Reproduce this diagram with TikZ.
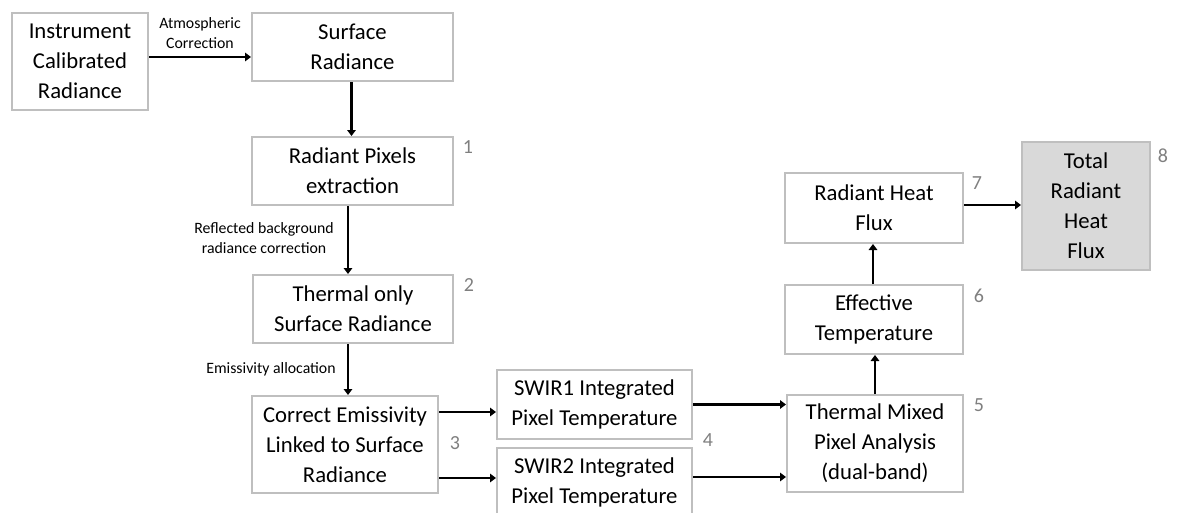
\documentclass[tikz,border=0pt]{standalone}
\usepackage{fontspec}
\setmainfont{Carlito}
\usetikzlibrary{arrows.meta,calc}
\definecolor{boxgray}{HTML}{BFBFBF}
\definecolor{numgray}{HTML}{7F7F7F}
\definecolor{fillgray}{HTML}{D9D9D9}
\tikzset{
  box/.style={draw=boxgray, line width=2pt, fill=white, align=center, inner sep=0pt,
    font=\fontsize{22.7}{30}\selectfont, text=black},
  arr/.style={line width=2.5pt, -{Triangle[length=6pt,width=8.5pt]}},
  lab/.style={font=\fontsize{15.8}{20}\selectfont, align=center, inner sep=0pt},
  num/.style={font=\fontsize{20}{24}\selectfont, text=numgray, inner sep=0pt},
}
\begin{document}
\begin{tikzpicture}[x=1pt,y=-1pt]
\useasboundingbox (0,0) rectangle (1181,512);
\node[box, minimum width=136, minimum height=97] (A) at (80,61.5) {Instrument\\Calibrated\\Radiance};
\node[box, minimum width=201, minimum height=68] (B) at (352.5,47) {Surface\\Radiance};
\node[box, minimum width=201, minimum height=68] (C) at (352.5,171) {Radiant Pixels\\extraction};
\node[box, minimum width=200, minimum height=68] (D) at (353,309) {Thermal only\\Surface Radiance};
\node[box, minimum width=186, minimum height=97] (E) at (345,444.5) {Correct Emissivity\\Linked to Surface\\Radiance};
\node[box, minimum width=195, minimum height=69] (F) at (594.5,404.5) {SWIR1 Integrated\\Pixel Temperature};
\node[box, minimum width=195, minimum height=69] (G) at (594.5,482.5) {SWIR2 Integrated\\Pixel Temperature};
\node[box, minimum width=176, minimum height=97] (H) at (875,443.5) {Thermal Mixed\\Pixel Analysis\\(dual-band)};
\node[box, minimum width=178, minimum height=69] (I) at (874,319.5) {Effective\\Temperature};
\node[box, minimum width=178, minimum height=70] (J) at (874,208) {Radiant Heat\\Flux};
\node[box, fill=fillgray, minimum width=128, minimum height=128] (K) at (1086,206) {Total\\Radiant\\Heat\\Flux};

\node[num] (n1) at (468,147) {1};
\node[num] (n2) at (469,285) {2};
\node[num] (n3) at (455,443) {3};
\node[num] (n4) at (708,440) {4};
\node[num] (n5) at (979,405) {5};
\node[num] (n6) at (979,296) {6};
\node[num] (n7) at (977,183) {7};
\node[num] (n8) at (1163,156) {8};

\node[lab] (l1) at (200,33) {Atmospheric\\Correction};
\node[lab] (l2) at (264,238.5) {Reflected background\\radiance correction};
\node[lab] (l3) at (271,369) {Emissivity allocation};

\draw[arr] ([yshift=4.5pt]A.east) -- ([yshift=4.5pt]A.east -| B.west);
\draw[arr] ([xshift=-1pt]B.south) -- ([xshift=-1pt]C.north);
\draw[arr] ([xshift=-4.5pt]C.south) -- ([xshift=-4.5pt]C.south |- D.north);
\draw[arr] ([xshift=3pt]E.north |- D.south) -- ([xshift=3pt]E.north);
\draw[arr] ([yshift=32.5pt]E.east) -- ([yshift=32.5pt]E.east -| F.west);
\draw[arr] ([yshift=-33.5pt]E.east) -- ([yshift=-33.5pt]E.east -| G.west);
\draw[arr] (F.east) -- (F.east -| H.west);
\draw[arr] ([yshift=5.5pt]G.east) -- ([yshift=5.5pt]G.east -| H.west);
\draw[arr] ([xshift=1pt]I.south |- H.north) -- ([xshift=1pt]I.south);
\draw[arr] ([xshift=-1pt]I.north) -- ([xshift=-1pt]J.south);
\draw[arr] ([yshift=3pt]J.east) -- ([yshift=3pt]J.east -| K.west);
\end{tikzpicture}
\end{document}
